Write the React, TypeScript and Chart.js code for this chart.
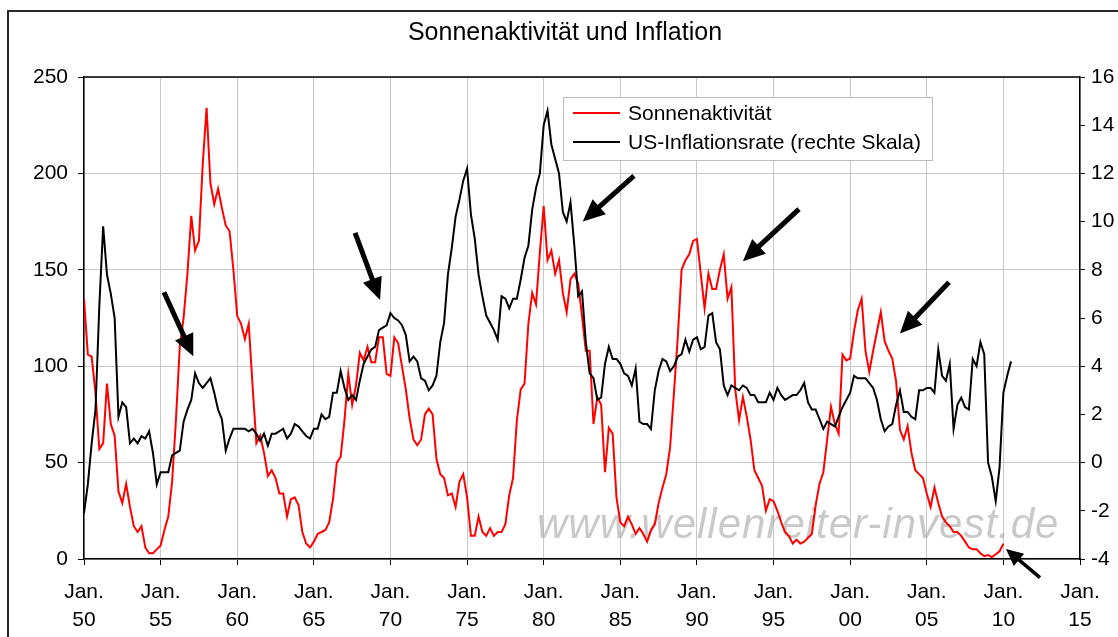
import React, { useEffect, useRef } from "react";
import { Chart, registerables } from "chart.js";

Chart.register(...registerables);

const W = 1118;
const H = 637;
const FONT = "'Liberation Sans', Arial, Helvetica, sans-serif";

const chartTitle = "Sonnenaktivität und Inflation";
const sunLabel = "Sonnenaktivität";
const inflLabel = "US-Inflationsrate (rechte Skala)";
const watermarkText = "www.wellenreiter-invest.de";
const xTickPrefix = "Jan.";

// quarterly samples starting Jan. 1950
const firstYear = 1950;
const stepYears = 0.25;

const sun1950s = [
  135, 106, 105, 86, 57, 60, 91, 70, 64, 35,
  29, 39, 27, 17, 14, 17, 6, 3, 3, 5,
  7, 15, 22, 40, 72, 110, 125, 148, 178, 160,
  165, 205, 234, 195, 184, 192, 182, 173, 170, 150,
];
const sun1960s = [
  126, 122, 114, 122, 90, 60, 64, 55, 43, 46,
  42, 34, 34, 22, 31, 32, 28, 14, 8, 6,
  9, 13, 14, 15, 19, 31, 50, 53, 72, 96,
  80, 90, 107, 103, 110, 102, 102, 115, 115, 96,
];
const sun1970s = [
  95, 115, 112, 100, 88, 73, 62, 59, 62, 75,
  78, 75, 52, 44, 42, 33, 34, 27, 40, 44,
  32, 12, 12, 22, 14, 12, 16, 12, 14, 14,
  18, 33, 42, 72, 88, 91, 122, 138, 132, 159,
];
const sun1980s = [
  183, 155, 160, 148, 155, 138, 128, 145, 148, 143,
  126, 108, 108, 70, 84, 80, 45, 68, 65, 32,
  19, 17, 22, 18, 13, 16, 13, 9, 15, 18,
  29, 37, 44, 58, 86, 115, 150, 155, 158, 165,
];
const sun1990s = [
  166, 148, 130, 148, 140, 140, 150, 158, 135, 141,
  88, 72, 84, 74, 62, 46, 42, 38, 25, 31,
  30, 25, 19, 14, 12, 8, 10, 8, 9, 11,
  13, 28, 39, 45, 62, 79, 70, 65, 106, 103,
];
const sun2000s = [
  104, 118, 129, 135, 108, 97, 108, 118, 128, 113,
  108, 104, 92, 67, 62, 69, 55, 46, 44, 42,
  34, 27, 37, 29, 22, 19, 17, 14, 14, 12,
  9, 6, 5, 5, 3, 1.5, 2, 1, 2.5, 4,
];
const sun2010 = [8];

const infl1950s = [
  -2.1, -0.9, 0.8, 2.2, 6.5, 9.8, 7.8, 7.0, 6.0, 1.9,
  2.5, 2.3, 0.8, 1.0, 0.8, 1.1, 1.0, 1.3, 0.4, -0.9,
  -0.4, -0.4, -0.4, 0.3, 0.4, 0.5, 1.7, 2.2, 2.6, 3.7,
  3.3, 3.1, 3.3, 3.5, 2.9, 2.2, 1.8, 0.5, 1.0, 1.4,
];
const infl1960s = [
  1.4, 1.4, 1.4, 1.3, 1.4, 1.2, 0.9, 1.2, 0.7, 1.2,
  1.2, 1.3, 1.4, 1.0, 1.2, 1.6, 1.5, 1.3, 1.1, 1.0,
  1.4, 1.4, 2.0, 1.8, 1.9, 2.9, 2.9, 3.8, 3.1, 2.6,
  2.8, 2.6, 3.4, 4.1, 4.4, 4.7, 4.8, 5.5, 5.6, 5.7,
];
const infl1970s = [
  6.2, 6.0, 5.9, 5.7, 5.3, 4.2, 4.4, 4.2, 3.5, 3.4,
  3.0, 3.2, 3.6, 5.0, 5.8, 7.8, 8.9, 10.2, 10.9, 11.7,
  12.2, 10.3, 9.3, 7.8, 6.9, 6.1, 5.8, 5.5, 5.1, 6.9,
  6.8, 6.4, 6.8, 6.8, 7.6, 8.5, 9.0, 10.5, 11.4, 12.0,
];
const infl1980s = [
  14.0, 14.6, 13.2, 12.6, 12.0, 10.4, 10.0, 10.8, 9.0, 6.9,
  7.1, 5.0, 3.7, 3.5, 2.6, 2.7, 4.1, 4.8, 4.3, 4.3,
  4.1, 3.7, 3.6, 3.2, 3.9, 1.7, 1.6, 1.6, 1.4, 3.0,
  3.8, 4.3, 4.2, 3.8, 4.0, 4.4, 4.5, 5.1, 4.6, 5.1,
];
const infl1990s = [
  5.2, 4.7, 4.8, 6.1, 6.2, 5.0, 4.7, 3.2, 2.8, 3.2,
  3.1, 3.0, 3.2, 3.1, 2.8, 2.8, 2.5, 2.5, 2.5, 2.9,
  2.6, 3.1, 2.8, 2.6, 2.7, 2.8, 2.8, 3.0, 3.3, 2.5,
  2.2, 2.2, 1.8, 1.4, 1.7, 1.6, 1.5, 1.9, 2.3, 2.6,
];
const infl2000s = [
  2.9, 3.6, 3.5, 3.5, 3.5, 3.3, 3.1, 2.6, 1.8, 1.3,
  1.5, 1.6, 2.4, 3.0, 2.1, 2.1, 1.9, 1.8, 3.0, 3.0,
  3.1, 3.1, 2.9, 4.7, 3.6, 3.4, 4.1, 1.4, 2.4, 2.7,
  2.3, 2.2, 4.3, 4.0, 5.0, 4.5, 0.0, -0.6, -1.6, -0.2,
];
const infl2010 = [2.9, 3.6, 4.2];

// annotation arrows: [fromYear, fromValue, toYear, toValue] (left-axis units)
const arrowFromYears = [1955.22, 1967.69, 1985.89, 1996.66, 2006.45, 2012.39];
const arrowFromValues = [138.4, 169.1, 198.7, 181.5, 143.5, -9.7];
const arrowToYears = [1957.13, 1969.32, 1982.55, 1993.0, 2003.25, 2010.17];
const arrowToValues = [105.1, 134.4, 175.1, 154.4, 116.9, 5.2];

function toPoints(values: number[], start: number) {
  return values.map((v, i) => ({ x: start + i * stepYears, y: v }));
}

const sunAll = [...sun1950s, ...sun1960s, ...sun1970s, ...sun1980s, ...sun1990s, ...sun2000s, ...sun2010];
const inflAll = [...infl1950s, ...infl1960s, ...infl1970s, ...infl1980s, ...infl1990s, ...infl2000s, ...infl2010];

function drawArrow(ctx: CanvasRenderingContext2D, x1: number, y1: number, x2: number, y2: number, shaft: number, headLen: number, headHalf: number) {
  const ang = Math.atan2(y2 - y1, x2 - x1);
  const bx = x2 - Math.cos(ang) * headLen;
  const by = y2 - Math.sin(ang) * headLen;
  ctx.save();
  ctx.strokeStyle = "#000";
  ctx.fillStyle = "#000";
  ctx.lineWidth = shaft;
  ctx.lineCap = "butt";
  ctx.beginPath();
  ctx.moveTo(x1, y1);
  ctx.lineTo(bx + Math.cos(ang) * 2, by + Math.sin(ang) * 2);
  ctx.stroke();
  ctx.beginPath();
  ctx.moveTo(x2, y2);
  ctx.lineTo(bx + Math.cos(ang + Math.PI / 2) * headHalf, by + Math.sin(ang + Math.PI / 2) * headHalf);
  ctx.lineTo(bx + Math.cos(ang - Math.PI / 2) * headHalf, by + Math.sin(ang - Math.PI / 2) * headHalf);
  ctx.closePath();
  ctx.fill();
  ctx.restore();
}

const decorPlugin = {
  id: "decor",
  beforeDraw(chart: any) {
    const ctx = chart.ctx as CanvasRenderingContext2D;
    ctx.save();
    ctx.fillStyle = "#fff";
    ctx.fillRect(0, 0, chart.width, chart.height);
    ctx.strokeStyle = "#2a2a2a";
    ctx.lineWidth = 2;
    ctx.strokeRect(8, 11, 1300, 900);
    ctx.fillStyle = "#000";
    ctx.font = `25px ${FONT}`;
    ctx.textAlign = "center";
    ctx.textBaseline = "middle";
    ctx.fillText(chartTitle, 565, 33);
    ctx.restore();
  },
  beforeDatasetsDraw(chart: any) {
    const ctx = chart.ctx as CanvasRenderingContext2D;
    const a = chart.chartArea;
    ctx.save();
    ctx.font = `italic 42px ${FONT}`;
    (ctx as any).letterSpacing = "1px";
    ctx.fillStyle = "rgba(165,165,165,0.6)";
    ctx.textAlign = "left";
    ctx.textBaseline = "alphabetic";
    ctx.fillText(watermarkText, 537, 538);
    (ctx as any).letterSpacing = "0px";
    ctx.strokeStyle = "#000";
    ctx.lineWidth = 1.5;
    ctx.beginPath();
    ctx.moveTo(a.left, a.top);
    ctx.lineTo(a.right, a.top);
    ctx.stroke();
    ctx.restore();
  },
  afterDatasetsDraw(chart: any) {
    const ctx = chart.ctx as CanvasRenderingContext2D;
    const xs = chart.scales.x;
    const ys = chart.scales.y;
    // legend
    ctx.save();
    ctx.fillStyle = "#fff";
    ctx.fillRect(563.5, 97.5, 369, 63);
    ctx.strokeStyle = "#bdbdbd";
    ctx.lineWidth = 1;
    ctx.strokeRect(563.5, 97.5, 369, 63);
    const items = [
      { label: sunLabel, color: chart.data.datasets[0].borderColor, y: 113 },
      { label: inflLabel, color: chart.data.datasets[1].borderColor, y: 142 },
    ];
    ctx.font = `21px ${FONT}`;
    ctx.textAlign = "left";
    ctx.textBaseline = "middle";
    for (const it of items) {
      ctx.strokeStyle = it.color;
      ctx.lineWidth = 2;
      ctx.beginPath();
      ctx.moveTo(573, it.y);
      ctx.lineTo(620, it.y);
      ctx.stroke();
      ctx.fillStyle = "#000";
      ctx.fillText(it.label, 628, it.y + 1);
    }
    ctx.restore();
    // arrows
    for (let i = 0; i < arrowFromYears.length; i++) {
      const x1 = xs.getPixelForValue(arrowFromYears[i]);
      const y1 = ys.getPixelForValue(arrowFromValues[i]);
      const x2 = xs.getPixelForValue(arrowToYears[i]);
      const y2 = ys.getPixelForValue(arrowToValues[i]);
      const small = i === arrowFromYears.length - 1;
      drawArrow(ctx, x1, y1, x2, y2, small ? 3.5 : 5, small ? 17 : 22, small ? 8 : 10);
    }
  },
};

export default function App() {
  const ref = useRef<HTMLCanvasElement>(null);
  useEffect(() => {
    const canvas = ref.current;
    if (!canvas) return;
    const tickFont = { family: FONT, size: 21 };
    const chart = new Chart(canvas, {
      type: "line",
      data: {
        datasets: [
          {
            label: sunLabel,
            data: toPoints(sunAll, firstYear),
            borderColor: "#ff0000",
            borderWidth: 2,
            pointRadius: 0,
            tension: 0,
            yAxisID: "y",
            order: 2,
          },
          {
            label: inflLabel,
            data: toPoints(inflAll, firstYear),
            borderColor: "#000000",
            borderWidth: 2,
            pointRadius: 0,
            tension: 0,
            yAxisID: "y1",
            order: 1,
          },
        ],
      },
      options: {
        responsive: false,
        devicePixelRatio: 1,
        animation: false,
        events: [],
        layout: { padding: { top: 77, left: 0, right: 0, bottom: 0 } },
        plugins: {
          legend: { display: false },
          tooltip: { enabled: false },
          title: { display: false },
        },
        scales: {
          x: {
            type: "linear",
            min: 1950,
            max: 2015,
            ticks: {
              stepSize: 5,
              autoSkip: false,
              maxRotation: 0,
              minRotation: 0,
              padding: 13,
              color: "#000",
              font: { family: FONT, size: 21, lineHeight: 1.33 },
              callback: (v: any) => [xTickPrefix, String(Math.round(Number(v)) % 100).padStart(2, "0")],
            },
            grid: { color: "#c8c8c8", lineWidth: 1, tickColor: "#000", tickLength: 6 },
            border: { color: "#000", width: 1.5 },
            afterFit: (s: any) => {
              s.height = 78;
            },
          },
          y: {
            position: "left",
            min: 0,
            max: 250,
            ticks: { stepSize: 50, padding: 10, color: "#000", font: tickFont },
            grid: { color: "#c8c8c8", lineWidth: 1, tickColor: "#000", tickLength: 6 },
            border: { color: "#000", width: 1.5 },
            afterFit: (s: any) => {
              s.width = 84;
            },
          },
          y1: {
            position: "right",
            min: -4,
            max: 16,
            ticks: { stepSize: 2, padding: 6, color: "#000", font: tickFont },
            grid: { drawOnChartArea: false, tickColor: "#000", tickLength: 5 },
            border: { color: "#000", width: 1.5 },
            afterFit: (s: any) => {
              s.width = W - 1080;
            },
          },
        },
      } as any,
      plugins: [decorPlugin as any],
    });
    return () => chart.destroy();
  }, []);
  return (
    <div style={{ position: "fixed", left: 0, top: 0, width: W, height: H, overflow: "hidden", background: "#fff" }}>
      <canvas ref={ref} width={W} height={H} style={{ display: "block", width: W, height: H }} />
    </div>
  );
}
